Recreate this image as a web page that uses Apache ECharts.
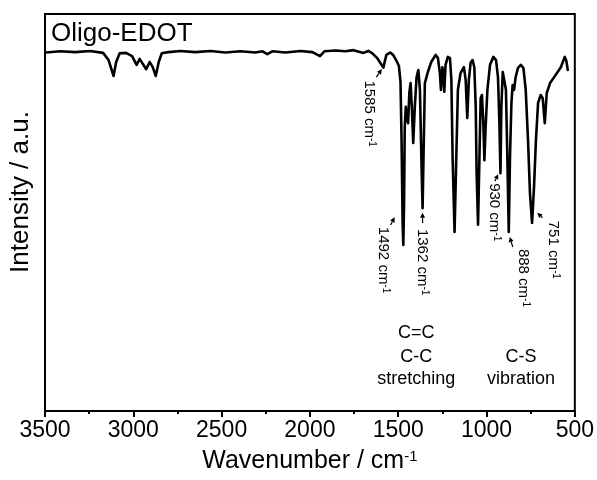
<!DOCTYPE html>
<html><head><meta charset="utf-8">
<script src="https://cdn.jsdelivr.net/npm/echarts@6/dist/echarts.min.js"></script>
<style>html,body{margin:0;padding:0;background:#fff}#c{width:597px;height:480px}</style>
</head><body><div id="c"></div>
<script>
// FTIR spectrum of Oligo-EDOT (wavenumber in cm-1, intensity in a.u.)
const wavenumbers = [3494,3415,3330,3245,3171,3140,3112,3097,3077,3041,3007,2981,2964,2950,2927,2907,2890,2873,2856,2839,2802,2734,2649,2564,2479,2394,2309,2269,2241,2213,2139,2054,1986,1943,1918,1855,1799,1753,1697,1669,1646,1619,1602,1584,1567,1546,1529,1512,1496,1487,1481,1475,1471,1467,1463,1457,1450,1444,1437,1430,1423,1415,1406,1396,1386,1377,1369,1362,1355,1349,1332,1313,1288,1275,1264,1258,1250,1245,1239,1232,1219,1207,1199,1192,1181,1171,1162,1147,1128,1118,1109,1100,1090,1079,1069,1061,1056,1048,1040,1033,1026,1018,1012,1005,995,980,961,946,935,927,921,916,908,899,890,882,874,867,859,852,844,835,822,806,791,778,765,754,742,731,720,708,693,682,670,659,640,617,579,557,548,540];
const intensity = [90.3,90.6,90.4,90.7,90.2,88.4,84.4,87.9,90.1,90.2,89.4,87.2,88.7,87.7,86.1,87.9,86.6,84.4,87.9,90.1,90.4,90.7,90.4,90.7,90.3,90.6,90.3,90.6,89.9,90.6,90.3,90.7,90.4,89.4,90.6,90.8,90.6,90.9,90.2,90.7,90.1,88.9,87.7,86.5,89.7,90.3,89.7,88.4,86.9,82.9,68.3,47.4,41.8,51.9,71.5,76.6,73.8,72.5,80.1,82.6,76.6,67.5,76.6,84.1,85.9,80.9,64.0,51.1,68.3,82.6,85.4,87.9,89.7,88.9,85.1,80.9,86.6,85.4,80.4,87.2,89.2,88.9,83.4,64.0,45.1,64.0,80.9,85.1,86.6,83.4,73.8,83.4,87.7,88.4,86.6,76.6,59.9,46.9,64.0,78.8,79.6,72.5,63.2,71.5,80.9,87.2,89.2,88.4,84.1,72.5,59.9,76.6,85.4,85.1,80.9,64.0,45.1,64.0,77.6,82.1,80.9,84.1,86.4,87.2,86.4,80.9,68.3,54.9,47.4,56.4,68.3,77.6,79.6,78.8,72.5,80.1,82.6,84.1,86.6,89.2,88.2,85.9];
const xTickValues = [3500,3000,2500,2000,1500,1000,500];

// peak annotations: label text, peak position (data coords)
const peakLabels = ['1585','1492','1362','930','888','751'];
const peakWavenumbers = [1584,1471,1362,921,874,742];
const peakIntensity = [86.5,41.8,51.1,59.9,45.1,47.4];

// band assignment labels
const bandLines = [['C=C','C-C','stretching'],['C-S','vibration']];
const bandWavenumbers = [1398,805];

const sampleName = 'Oligo-EDOT';
const xName = 'Wavenumber / cm';
const yName = 'Intensity / a.u.';

const FONT = '"Liberation Sans", Arial, Helvetica, sans-serif';
const chart = echarts.init(document.getElementById('c'), null, {renderer:'canvas'});

chart.setOption({
  animation:false,
  backgroundColor:'#fff',
  grid:{left:45,right:21,top:14,bottom:69,show:true,borderColor:'#000',borderWidth:2,backgroundColor:'transparent'},
  xAxis:{
    type:'value', inverse:true, min:500, max:3500, interval:500,
    axisLine:{show:true,onZero:false,lineStyle:{color:'#000',width:2}},
    axisTick:{show:true,inside:false,length:6,lineStyle:{color:'#000',width:2}},
    minorTick:{show:true,splitNumber:2,length:3,lineStyle:{color:'#000',width:2}},
    splitLine:{show:false}, minorSplitLine:{show:false},
    axisLabel:{color:'#000',fontSize:23,fontFamily:FONT,margin:8,showMinLabel:true,showMaxLabel:true,
      formatter:v=>xTickValues.includes(v)?String(v):''},
    name:'{n|'+xName+'}{s|-1}', nameLocation:'middle', nameGap:38,
    nameTextStyle:{rich:{n:{fontSize:25,fontFamily:FONT,color:'#000',verticalAlign:'bottom'},
                         s:{fontSize:15,fontFamily:FONT,color:'#000',verticalAlign:'top'}}}
  },
  yAxis:{type:'value',min:0,max:100,
    axisLine:{show:true,lineStyle:{color:'#000',width:2}},
    axisTick:{show:false},axisLabel:{show:false},splitLine:{show:false}},
  series:[{type:'line',data:wavenumbers.map((w,i)=>[w,intensity[i]]),symbol:'none',showSymbol:false,
    lineStyle:{color:'#000',width:2.6,join:'round',cap:'round'},smooth:false,z:3}]
});

// annotation layout (pixel offsets relative to the peak)
const annLayout = [
  {tx:-14,ty:46, a1:[-7,9.5], a2:[-1.5,1.5]},
  {tx:-20,ty:15, a1:[-12.7,-20], a2:[-8.7,-28]},
  {tx:-0.5,ty:54, a1:[0,15], a2:[0,4.5]},
  {tx:-6.7,ty:39, a1:[-5.7,8], a2:[-2.2,1]},
  {tx:14,ty:46, a1:[4,15], a2:[1,5]},
  {tx:21,ty:27, a1:[10.4,-5], a2:[5.2,-10]}
];

function arrow(x1,y1,x2,y2){
  const dx=x2-x1, dy=y2-y1, L=Math.hypot(dx,dy)||1, ux=dx/L, uy=dy/L, nx=-uy, ny=ux;
  const hl=5, hw=2.5, bx=x2-ux*hl, by=y2-uy*hl;
  return [
    {type:'line',shape:{x1,y1,x2:bx,y2:by},style:{stroke:'#000',lineWidth:1.2},z:10},
    {type:'polygon',shape:{points:[[x2,y2],[bx+nx*hw,by+ny*hw],[bx-nx*hw,by-ny*hw]]},style:{fill:'#000'},z:10}
  ];
}

const richAnn = {n:{fontSize:15,fontFamily:FONT,fill:'#000',verticalAlign:'bottom'},
                 s:{fontSize:10,fontFamily:FONT,fill:'#000',verticalAlign:'top'}};
const graphics = [];
peakLabels.forEach((lab,i)=>{
  const p = chart.convertToPixel({gridIndex:0},[peakWavenumbers[i],peakIntensity[i]]);
  const L = annLayout[i];
  graphics.push({type:'text',x:p[0]+L.tx,y:p[1]+L.ty,rotation:-Math.PI/2,z:10,
    style:{text:'{n|'+lab+' cm}{s|-1}',rich:richAnn,align:'center',verticalAlign:'middle',fill:'#000'}});
  graphics.push(...arrow(p[0]+L.a1[0],p[1]+L.a1[1],p[0]+L.a2[0],p[1]+L.a2[1]));
});
const bandY = [19.6,13.6,8.1];
bandLines.forEach((lines,gi)=>{
  const off = 3-lines.length;
  lines.forEach((t,li)=>{
    const p = chart.convertToPixel({gridIndex:0},[bandWavenumbers[gi],bandY[li+off]]);
    graphics.push({type:'text',x:p[0],y:p[1],z:10,
      style:{text:t,font:'18px '+FONT,fill:'#000',align:'center',verticalAlign:'middle'}});
  });
});
graphics.push({type:'text',x:51,y:34,z:10,style:{text:sampleName,font:'26px '+FONT,fill:'#000',align:'left',verticalAlign:'middle'}});
graphics.push({type:'text',x:21,y:192,rotation:Math.PI/2,z:10,style:{text:yName,font:'26px '+FONT,fill:'#000',align:'center',verticalAlign:'middle'}});
chart.setOption({graphic:graphics});
</script></body></html>
